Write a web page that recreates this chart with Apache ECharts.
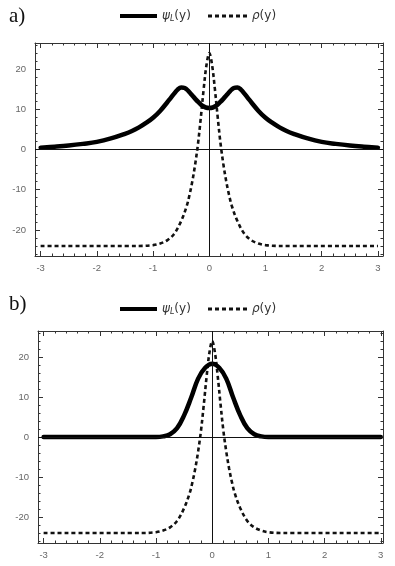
<!DOCTYPE html>
<html><head><meta charset="utf-8">
<script src="https://cdn.jsdelivr.net/npm/echarts@6/dist/echarts.min.js"></script>
<style>html,body{margin:0;padding:0;background:#fff}#c{width:395px;height:566px}</style>
</head><body><div id="c"></div>
<script>
// ---- data ----
const xPsiA = [-3,-2.75,-2.5,-2.25,-2,-1.75,-1.5,-1.375,-1.25,-1.125,-1,-0.875,-0.75,-0.6875,-0.625,-0.5625,-0.5,-0.4375,-0.375,-0.3125,-0.25,-0.1875,-0.125,-0.0625,0,0.0625,0.125,0.1875,0.25,0.3125,0.375,0.4375,0.5,0.5625,0.625,0.6875,0.75,0.875,1,1.125,1.25,1.375,1.5,1.75,2,2.25,2.5,2.75,3];
const psiA  = [0.45,0.7,1.0,1.4,1.9,2.75,3.9,4.6,5.5,6.6,7.9,9.6,11.7,12.8,13.9,14.9,15.45,15.3,14.6,13.6,12.6,11.7,10.9,10.45,10.3,10.45,10.9,11.7,12.6,13.6,14.6,15.3,15.45,14.9,13.9,12.8,11.7,9.6,7.9,6.6,5.5,4.6,3.9,2.75,1.9,1.4,1.0,0.7,0.45];
const xRho  = [-3,-1.25,-1,-0.875,-0.75,-0.625,-0.5,-0.4,-0.35,-0.3,-0.25,-0.2,-0.15,-0.1,-0.05,0,0.05,0.1,0.15,0.2,0.25,0.3,0.35,0.4,0.5,0.625,0.75,0.875,1,1.25,3];
const rho   = [-24,-24,-23.8,-23.4,-22.6,-21,-17.8,-14,-11.2,-7.8,-3.6,1.5,8,15,21,24,21,15,8,1.5,-3.6,-7.8,-11.2,-14,-17.8,-21,-22.6,-23.4,-23.8,-24,-24];
const xPsiB = [-3,-1,-0.875,-0.75,-0.625,-0.5,-0.375,-0.25,-0.125,0,0.125,0.25,0.375,0.5,0.625,0.75,0.875,1,3];
const psiB  = [0,0,0.15,0.7,2.2,5.4,9.8,14.6,17.3,18.3,17.3,14.6,9.8,5.4,2.2,0.7,0.15,0,0];
const xTickLabels = [-3,-2,-1,0,1,2,3];
const yTickLabels = [-20,-10,0,10,20];
const panelLabels = ['a)','b)'];
const seriesNames = ['psi','rho'];

// ---- build ----
const pairs = (xs, ys) => xs.map((x,i)=>[x, ys[i]]);
const xMinor = []; for (let i=-15;i<=15;i++){ const v=+(i*0.2).toFixed(2); if (Math.abs(v-Math.round(v))>1e-9) xMinor.push(v); }
const yMinor = []; for (let v=-26; v<=26; v+=2){ if (v%10!==0) yMinor.push(v); }

const grids = [
  {left:35, right:12, top:43, height:213},
  {left:38, right:12, top:331, height:212}
];
const XR = [[-3.1,3.09],[-3.1,3.04]];
const YR = [-26.5,26.5];
const labelStyle = {color:'#666', fontSize:9.5, fontFamily:'Liberation Sans, Arial, sans-serif'};

const xAxis=[], yAxis=[];
grids.forEach((g,gi)=>{
  const base = {type:'value', gridIndex:gi, min:XR[gi][0], max:XR[gi][1], splitLine:{show:false}};
  xAxis.push(Object.assign({}, base, {position:'bottom',
    axisLine:{show:true,onZero:false,lineStyle:{color:'#333',width:1}},
    axisTick:{show:true,inside:true,length:5,customValues:xTickLabels,lineStyle:{color:'#333'}},
    axisLabel:{show:true,customValues:xTickLabels,margin:7,...labelStyle}}));
  xAxis.push(Object.assign({}, base, {position:'bottom',
    axisLine:{show:false,onZero:false},
    axisTick:{show:true,inside:true,length:2.5,customValues:xMinor,lineStyle:{color:'#333'}},
    axisLabel:{show:false}}));
  xAxis.push(Object.assign({}, base, {position:'top',
    axisLine:{show:true,onZero:false,lineStyle:{color:'#333',width:1}},
    axisTick:{show:true,inside:true,length:5,customValues:xTickLabels,lineStyle:{color:'#333'}},
    axisLabel:{show:false}}));
  xAxis.push(Object.assign({}, base, {position:'top',
    axisLine:{show:false,onZero:false},
    axisTick:{show:true,inside:true,length:2.5,customValues:xMinor,lineStyle:{color:'#333'}},
    axisLabel:{show:false}}));
  const ybase = {type:'value', gridIndex:gi, min:YR[0], max:YR[1], splitLine:{show:false}};
  yAxis.push(Object.assign({}, ybase, {position:'left',
    axisLine:{show:true,onZero:false,lineStyle:{color:'#333',width:1}},
    axisTick:{show:true,inside:true,length:5,customValues:yTickLabels,lineStyle:{color:'#333'}},
    axisLabel:{show:true,customValues:yTickLabels,margin:9,...labelStyle}}));
  yAxis.push(Object.assign({}, ybase, {position:'left',
    axisLine:{show:false,onZero:false},
    axisTick:{show:true,inside:true,length:2.5,customValues:yMinor,lineStyle:{color:'#333'}},
    axisLabel:{show:false}}));
  yAxis.push(Object.assign({}, ybase, {position:'right',
    axisLine:{show:true,onZero:false,lineStyle:{color:'#333',width:1}},
    axisTick:{show:true,inside:true,length:5,customValues:yTickLabels,lineStyle:{color:'#333'}},
    axisLabel:{show:false}}));
  yAxis.push(Object.assign({}, ybase, {position:'right',
    axisLine:{show:false,onZero:false},
    axisTick:{show:true,inside:true,length:2.5,customValues:yMinor,lineStyle:{color:'#333'}},
    axisLabel:{show:false}}));
});

const psiData = [pairs(xPsiA, psiA), pairs(xPsiB, psiB)];
const series = [];
grids.forEach((g,gi)=>{
  series.push({name:seriesNames[1], type:'line', xAxisIndex:gi*4, yAxisIndex:gi*4,
    data:pairs(xRho, rho), showSymbol:false, symbol:'none', smooth:0.35,
    lineStyle:{color:'#111', width:2.6, type:[4,3]}, itemStyle:{color:'#111'}, z:3,
    markLine:{silent:true, symbol:'none', animation:false,
      label:{show:false}, lineStyle:{color:'#111', width:1, type:'solid'},
      data:[{yAxis:0},{xAxis:0}]}});
  series.push({name:seriesNames[0], type:'line', xAxisIndex:gi*4, yAxisIndex:gi*4,
    data:psiData[gi], showSymbol:false, symbol:'none', smooth:0.4,
    lineStyle:{color:'#000', width:4.5, join:'round', cap:'round'}, itemStyle:{color:'#000'}, z:4});
});

const legendRich = {
  g:{fontSize:12, color:'#333', fontFamily:'DejaVu Sans, sans-serif', fontStyle:'italic'},
  s:{fontSize:8, color:'#333', fontFamily:'DejaVu Sans, sans-serif', fontStyle:'italic', padding:[6,0,0,0]},
  t:{fontSize:12, color:'#333', fontFamily:'DejaVu Sans, sans-serif'}
};
const legendFmt = n => n==='psi' ? '{g|ψ}{s|L}{t|(y)}' : '{g|ρ}{t|(y)}';
const solidIcon = 'path://M0,0h38v4h-38z';
let dashPath = 'path://'; for (let i=0;i<6;i++){ dashPath += 'M'+(i*7)+',0h4v3h-4z'; }
const legends = [];
[11, 304].forEach(top=>{
  legends.push({top:top-1, left:120, itemWidth:37, itemHeight:4, selectedMode:false,
    data:[{name:seriesNames[0], icon:solidIcon, itemStyle:{color:'#000'}}],
    formatter:legendFmt, textStyle:{rich:legendRich}, padding:0});
  legends.push({top:top-1, left:208, itemWidth:39, itemHeight:3, selectedMode:false,
    data:[{name:seriesNames[1], icon:dashPath, itemStyle:{color:'#111'}}],
    formatter:legendFmt, textStyle:{rich:legendRich}, padding:0});
});

const option = {
  animation:false,
  backgroundColor:'#fff',
  grid:grids.map(g=>Object.assign({containLabel:false}, g)),
  xAxis, yAxis, series,
  legend:legends,
  title:panelLabels.map((t,i)=>({text:t, left:4, top:i===0?1:289,
    textStyle:{fontFamily:'Liberation Serif, Times New Roman, serif', fontSize:21, fontWeight:'normal', color:'#111'}}))
};
const chart = echarts.init(document.getElementById('c'), null, {renderer:'canvas'});
chart.setOption(option);
</script></body></html>
